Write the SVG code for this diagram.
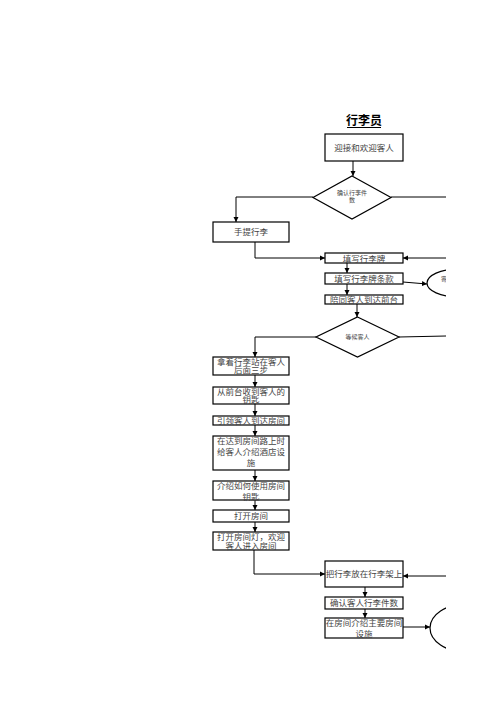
<svg xmlns="http://www.w3.org/2000/svg" width="496" height="702" viewBox="0 0 496 702">
<style>
.b{fill:#fff;stroke:#000;stroke-width:1.2}
.t{font-family:"Liberation Serif","Noto Sans CJK SC",serif;font-size:8.5px;fill:#444;text-anchor:middle}
.s{font-size:6px}
.c{fill:none;stroke:#000;stroke-width:1}
.h{font-family:"Liberation Sans","Noto Sans CJK SC",sans-serif;font-size:12px;font-weight:bold;fill:#000;text-anchor:middle}
</style>
<defs>
<marker id="a" markerWidth="6" markerHeight="6" refX="5" refY="3" orient="auto" markerUnits="userSpaceOnUse"><path d="M0,0.5 L5,3 L0,5.5z" fill="#000"/></marker>
<clipPath id="clip"><rect x="0" y="0" width="446" height="702"/></clipPath>
</defs>
<rect width="496" height="702" fill="#fff"/>
<g clip-path="url(#clip)">
<g id="title"><text class="h" x="364" y="125">行李员</text><line x1="347" y1="127.5" x2="381" y2="127.5" stroke="#000" stroke-width="1"/></g>

<g id="connectors">
<path class="c" d="M353,161 V176" marker-end="url(#a)"/>
<path class="c" d="M391,197 H446"/>
<path class="c" d="M313,197 H236 V222" marker-end="url(#a)"/>
<path class="c" d="M255,242 V258 H325" marker-end="url(#a)"/>
<path class="c" d="M446,258 H403" marker-end="url(#a)"/>
<path class="c" d="M347,263 V273" marker-end="url(#a)"/>
<path class="c" d="M347,284 V295" marker-end="url(#a)"/>
<path class="c" d="M403,282 L427,284" marker-end="url(#a)"/>
<path class="c" d="M357,304 V317" marker-end="url(#a)"/>
<path class="c" d="M399,337 L446,336"/>
<path class="c" d="M316,337 H255 V357" marker-end="url(#a)"/>
<path class="c" d="M255,375 V387" marker-end="url(#a)"/>
<path class="c" d="M255,404 V416" marker-end="url(#a)"/>
<path class="c" d="M255,425 V436" marker-end="url(#a)"/>
<path class="c" d="M255,470 V481" marker-end="url(#a)"/>
<path class="c" d="M255,500 V510" marker-end="url(#a)"/>
<path class="c" d="M255,522 V532" marker-end="url(#a)"/>
<path class="c" d="M254,550 V574 H325" marker-end="url(#a)"/>
<path class="c" d="M446,576 H403" marker-end="url(#a)"/>
<path class="c" d="M365,587 V597" marker-end="url(#a)"/>
<path class="c" d="M365,609 V618" marker-end="url(#a)"/>
<path class="c" d="M403,627 H430" marker-end="url(#a)"/>
</g>

<g id="n1"><rect class="b" x="325" y="134" width="78" height="27"/><text class="t" x="364" y="150.5">迎接和欢迎客人</text></g>
<g id="d1"><polygon class="b" points="352,176 391,197.5 352,219 313,197.5"/><text class="t s" x="352" y="195">确认行李件</text><text class="t s" x="352" y="202">数</text></g>
<g id="n2"><rect class="b" x="213" y="222" width="76" height="20"/><text class="t" x="251" y="235">手提行李</text></g>
<g id="n3"><rect class="b" x="325" y="253" width="78" height="10"/><text class="t" x="364" y="261.5">填写行李牌</text></g>
<g id="n4"><rect class="b" x="325" y="273" width="78" height="11"/><text class="t" x="364" y="281.5">填写行李牌条款</text></g>
<g id="e1"><ellipse class="b" cx="458" cy="283" rx="31" ry="14"/><text class="t s" x="441" y="281" style="text-anchor:start">寄存行李</text></g>
<g id="n5"><rect class="b" x="325" y="295" width="78" height="9"/><text class="t" x="364" y="302.5">陪同客人到达前台</text></g>
<g id="d2"><polygon class="b" points="357.5,317 399,337 357.5,357 316,337"/><text class="t s" x="357.5" y="339">等候客人</text></g>
<g id="n6"><rect class="b" x="213" y="357" width="76" height="18"/><text class="t" x="251" y="364.5">拿着行李站在客人</text><text class="t" x="251" y="373">后面三步</text></g>
<g id="n7"><rect class="b" x="213" y="387" width="76" height="17"/><text class="t" x="251" y="394.5">从前台收到客人的</text><text class="t" x="251" y="403">钥匙</text></g>
<g id="n8"><rect class="b" x="213" y="416" width="76" height="9"/><text class="t" x="251" y="423.5">引领客人到达房间</text></g>
<g id="n9"><rect class="b" x="213" y="436" width="76" height="34"/><text class="t" x="251" y="444">在达到房间路上时</text><text class="t" x="251" y="454.5">给客人介绍酒店设</text><text class="t" x="251" y="466">施</text></g>
<g id="n10"><rect class="b" x="213" y="481" width="76" height="19"/><text class="t" x="251" y="488.5">介绍如何使用房间</text><text class="t" x="251" y="499.5">钥匙</text></g>
<g id="n11"><rect class="b" x="213" y="510" width="76" height="12"/><text class="t" x="251" y="519">打开房间</text></g>
<g id="n12"><rect class="b" x="213" y="532" width="76" height="18"/><text class="t" x="251" y="539.5">打开房间灯，欢迎</text><text class="t" x="251" y="548.5">客人进入房间</text></g>
<g id="n13"><rect class="b" x="325" y="561" width="78" height="26"/><text class="t" x="364" y="577">把行李放在行李架上</text></g>
<g id="n14"><rect class="b" x="325" y="597" width="78" height="12"/><text class="t" x="364" y="606">确认客人行李件数</text></g>
<g id="n15"><rect class="b" x="325" y="618" width="78" height="20"/><text class="t" x="364" y="626">在房间介绍主要房间</text><text class="t" x="364" y="637">设施</text></g>
<g id="e2"><ellipse class="b" cx="466" cy="628" rx="36" ry="24"/></g>
</g>
</svg>
